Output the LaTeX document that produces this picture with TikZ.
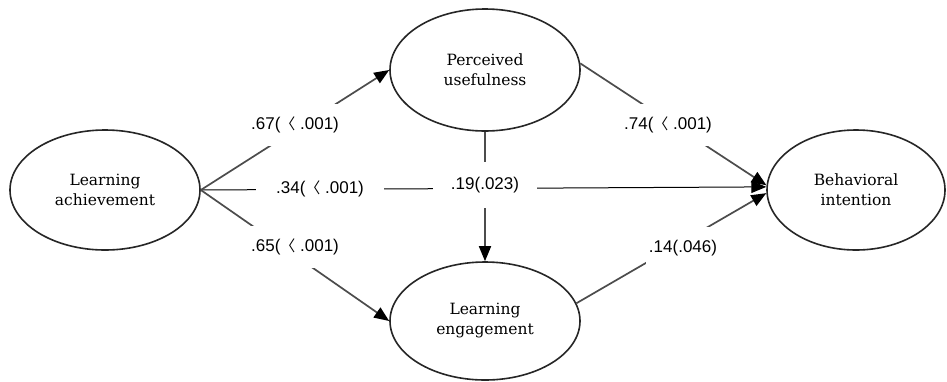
\documentclass[tikz,border=0pt]{standalone}
\usepackage{fontspec}
\setmainfont{DejaVu Serif}
\newfontfamily\labfont{Liberation Sans}
\newfontfamily\cjkfont{Noto Sans CJK KR}
\usetikzlibrary{arrows.meta,shapes.geometric}
\newcommand{\angl}{{\cjkfont\fontsize{15}{20}\selectfont 〈}}
\tikzset{
  var/.style={draw=black!85, line width=1.6pt, ellipse, inner sep=0pt, align=center,
    font=\fontsize{15.5}{20}\selectfont},
  conn/.style={draw=black!70, line width=1.7pt, -{Triangle[length=15pt,width=12pt,color=black]}},
  thinconn/.style={draw=black, line width=1pt, -{Triangle[length=15pt,width=12pt,color=black]}},
  coef/.style={fill=white, font=\labfont\fontsize{17}{20}\selectfont, inner xsep=3pt, inner ysep=13pt}
}
\begin{document}
\begin{tikzpicture}[x=1pt,y=-1pt]
\useasboundingbox[fill=white] (0,0) rectangle (947,381);
\node[var, minimum width=190pt, minimum height=120pt] (LA) at (105,190) {Learning\\achievement};
\node[var, minimum width=190pt, minimum height=122pt] (PU) at (485,70) {Perceived\\usefulness};
\node[var, minimum width=190pt, minimum height=118pt] (LE) at (485,321) {Learning\\engagement};
\node[var, minimum width=178pt, minimum height=120pt] (BI) at (856,190) {Behavioral\\intention};
\draw[thinconn] (LA.east) -- (BI.178);
\draw[conn] (LA.east) -- (PU.west);
\draw[conn] (LA.east) -- (LE.west);
\draw[conn] (PU.4) -- (BI.177);
\draw[conn] (LE.11) -- (BI.182);
\draw[conn] (PU.south) -- (LE.north);
\node[coef] (c67) at (295,125) {.67(\angl\ .001)};
\node[coef] (c65) at (295,247) {.65(\angl\ .001)};
\node[coef, inner xsep=20pt] (c34) at (320,189) {.34(\angl\ .001)};
\node[coef, inner xsep=18pt, inner ysep=15pt] (c19) at (485,185) {.19(.023)};
\node[coef] (c74) at (668,125) {.74(\angl\ .001)};
\node[coef] (c14) at (683,248) {.14(.046)};
\end{tikzpicture}
\end{document}
